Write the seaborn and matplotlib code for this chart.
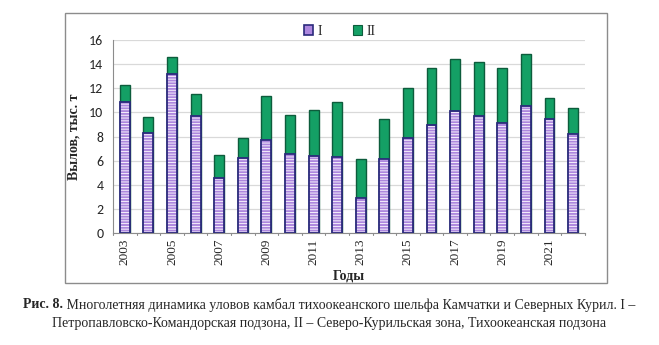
import matplotlib
matplotlib.use("Agg")
import matplotlib.pyplot as plt
import matplotlib.patches as mpatches
import matplotlib.font_manager as fm
import pandas as pd
import seaborn as sns

# Annual catches, thousand tonnes
years = [str(y) for y in range(2003, 2023)]
zone_i = [10.9, 8.33, 13.19, 9.74, 4.6, 6.23, 7.67, 6.59, 6.42, 6.29,
          2.92, 6.15, 7.91, 8.97, 10.12, 9.68, 9.16, 10.54, 9.46, 8.22]
zone_ii = [1.37, 1.32, 1.38, 1.76, 1.86, 1.68, 3.7, 3.2, 3.81, 4.55,
           3.2, 3.34, 4.14, 4.74, 4.28, 4.5, 4.55, 4.33, 1.77, 2.15]
tick_labels = [y if i % 2 == 0 else "" for i, y in enumerate(years)]

df = pd.DataFrame({"year": years, "I": zone_i, "II": zone_ii})
df["total"] = df["I"] + df["II"]

LAV = "#ad87de"
NAVY = "#2b2a7c"
GREEN = "#14a065"
DKGREEN = "#0d5c3c"
SERIF = "Liberation Serif"
SANS = "Carlito" if "Carlito" in fm.get_font_names() else "Liberation Sans"

sns.set_style("white")
plt.rcParams["hatch.linewidth"] = 0.6

fig = plt.figure(figsize=(6.59, 3.45), dpi=100)
ax = fig.add_axes([0.1715, 0.3246, 0.716, 0.5594])

# stacked bars: total (zone II on top) then zone I over it
sns.barplot(data=df, x="year", y="total", color=GREEN, width=0.42,
            saturation=1, edgecolor=DKGREEN, linewidth=1.0, ax=ax, zorder=3)
n_ii = len(ax.patches)
sns.barplot(data=df, x="year", y="I", color=LAV, width=0.42,
            saturation=1, edgecolor="white", linewidth=0, ax=ax, zorder=4)
for p in ax.patches[n_ii:]:
    p.set_hatch("------")
    p.set_edgecolor("white")
    # outline drawn separately so the stripes stay white
    ax.add_patch(mpatches.Rectangle(p.get_xy(), p.get_width(), p.get_height(),
                                    facecolor="none", edgecolor=NAVY,
                                    linewidth=1.3, zorder=5))

ax.set_ylim(0, 16)
ax.set_xlim(-0.5, len(years) - 0.5)
ax.set_yticks(range(0, 17, 2))
ax.yaxis.grid(True, color="#d9d9d9", linewidth=0.9, zorder=0)
ax.set_axisbelow(True)

ax.set_xticks(range(len(years)))
ax.set_xticklabels(tick_labels, rotation=90, fontfamily=SERIF, fontsize=9.5)
ax.tick_params(axis="x", length=0, pad=4)
for t in ax.get_yticklabels():
    t.set_fontfamily(SANS)
    t.set_fontsize(10)
ax.tick_params(axis="y", length=4, color="#8c8c8c", direction="out", pad=3)

# boundary tick marks between categories on the x axis
for xb in [i - 0.5 for i in range(len(years) + 1)]:
    ax.plot([xb, xb], [0, -0.012], transform=ax.get_xaxis_transform(),
            color="#8c8c8c", linewidth=0.8, clip_on=False)

for side in ("top", "right"):
    ax.spines[side].set_visible(False)
for side in ("left", "bottom"):
    ax.spines[side].set_color("#8c8c8c")
    ax.spines[side].set_linewidth(0.8)

ax.set_ylabel("Вылов, тыс. т", fontfamily=SERIF, fontweight="bold",
              fontsize=10, labelpad=6)
ax.set_xlabel("Годы", fontfamily=SERIF, fontweight="bold", fontsize=10,
              labelpad=3)

handles = [mpatches.Patch(facecolor=LAV, edgecolor=NAVY, linewidth=1.2, label="I"),
           mpatches.Patch(facecolor=GREEN, edgecolor=DKGREEN, linewidth=0.8, label="II")]
ax.legend(handles=handles, loc="center", bbox_to_anchor=(0.48, 1.045),
          ncol=2, frameon=False, handlelength=0.7, handleheight=0.7,
          handletextpad=0.3, columnspacing=2.2,
          prop={"family": SERIF, "size": 10})

# outer chart frame
fig.patches.append(mpatches.Rectangle((65 / 659, 1 - 283 / 345), 542 / 659, 270 / 345,
                                      transform=fig.transFigure, fill=False,
                                      edgecolor="#8c8c8c", linewidth=1.0))

# figure caption: bold figure number followed by regular text, centred
line1_bold = "Рис. 8."
line1 = " Многолетняя динамика уловов камбал тихоокеанского шельфа Камчатки и Северных Курил. I –"
line2 = "Петропавловско-Командорская подзона, II – Северо-Курильская зона, Тихоокеанская подзона"
cap_kw = dict(fontfamily=SERIF, fontsize=10, va="center")
t1 = fig.text(0.0, 1 - 305 / 345, line1_bold, fontweight="bold", **cap_kw)
t2 = fig.text(0.0, 1 - 305 / 345, line1, **cap_kw)
fig.text(0.5, 1 - 323 / 345, line2, ha="center", **cap_kw)
fig.canvas.draw()
r = fig.canvas.get_renderer()
w1 = t1.get_window_extent(r).width
w2 = t2.get_window_extent(r).width
x0 = (fig.bbox.width - (w1 + w2)) / 2
t1.set_x(x0 / fig.bbox.width)
t2.set_x((x0 + w1) / fig.bbox.width)

fig.savefig("out.png", dpi=100)
